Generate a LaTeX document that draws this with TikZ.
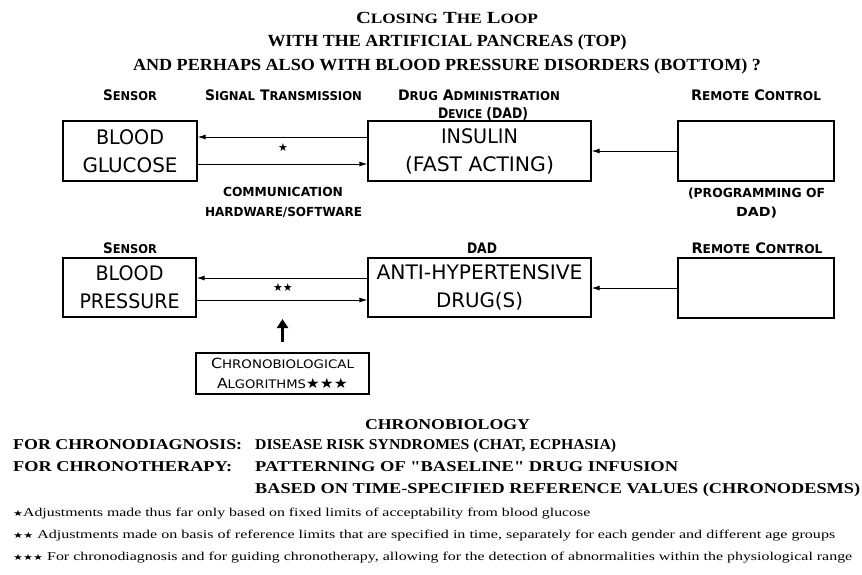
\documentclass[tikz,border=0pt]{standalone}
\usepackage{fontspec}
\usepackage{graphicx}
\setmainfont{Liberation Serif}
\newfontfamily\qfont{Liberation Serif}
\newfontfamily\lblfont{DejaVu Sans}
\newfontfamily\symfont{DejaVu Sans}
\usetikzlibrary{arrows.meta}
\newsavebox\fxbox
\newdimen\fxw
\newcommand\fitx[2]{\sbox\fxbox{#2}\fxw=\wd\fxbox\pgfmathsetmacro\fxs{#1/\fxw}\scalebox{\fxs}[1]{\usebox\fxbox}}
\newcommand\Sc[2]{#1\scalebox{0.84}{#2}}
\newcommand\st{{\symfont ★}}
\newcommand\fst{{\symfont\scalebox{0.7}{★}}}
\newcommand\dq{{\qfont\bfseries "}}
\tikzset{
  ttl/.style={anchor=base, inner sep=0pt, font=\bfseries\fontsize{17}{20}\selectfont},
  hdr/.style={anchor=base, inner sep=0pt, font=\lblfont\bfseries\fontsize{14.5}{16}\selectfont},
  sub/.style={anchor=base, inner sep=0pt, font=\lblfont\bfseries\fontsize{12.5}{14}\selectfont},
  box/.style={draw, line width=1.3pt, inner sep=0pt, align=center, font=\lblfont\fontsize{20}{28}\selectfont},
  chrbox/.style={draw, line width=1.3pt, inner sep=0pt, align=center, font=\lblfont\fontsize{14}{20}\selectfont},
  sig/.style={line width=0.9pt, -{Latex[length=8pt,width=5pt]}},
  thickarr/.style={line width=3pt, -{Triangle[length=9pt,width=11pt]}},
  starlbl/.style={inner sep=0pt, font=\fontsize{11}{12}\selectfont},
  bt/.style={inner sep=0pt, font=\bfseries\fontsize{15}{18}\selectfont},
  fn/.style={inner sep=0pt, anchor=base west, font=\fontsize{12}{14}\selectfont}
}
\begin{document}
\begin{tikzpicture}[x=1pt,y=-1pt]
\useasboundingbox (0,0) rectangle (862,574);
% title
\node[ttl] (t1) at (447,23) {\fitx{182}{\Sc{C}{LOSING} \Sc{T}{HE} \Sc{L}{OOP}}};
\node[ttl] (t2) at (447,46) {\fitx{359}{WITH THE ARTIFICIAL PANCREAS (TOP)}};
\node[ttl] (t3) at (447,70) {\fitx{628}{AND PERHAPS ALSO WITH BLOOD PRESSURE DISORDERS (BOTTOM) ?}};
% top headers
\node[hdr] (hs1) at (130,100) {\fitx{54}{\Sc{S}{ENSOR}}};
\node[hdr] (hsig) at (283.5,100) {\fitx{157}{\Sc{S}{IGNAL} \Sc{T}{RANSMISSION}}};
\node[hdr] (hdad1) at (479,100) {\fitx{162}{\Sc{D}{RUG} \Sc{A}{DMINISTRATION}}};
\node[hdr] (hdad2) at (483,118) {\fitx{90}{\Sc{D}{EVICE} (DAD)}};
\node[hdr] (hrc1) at (756,100) {\fitx{130}{\Sc{R}{EMOTE} \Sc{C}{ONTROL}}};
% top boxes
\node[box, minimum width=134pt, minimum height=60pt] (bg) at (130,151) {\fitx{68}{BLOOD}\\\fitx{95}{GLUCOSE}};
\node[box, minimum width=223pt, minimum height=60pt] (ins) at (479.5,151) {\fitx{77}{INSULIN}\\\fitx{149}{(FAST ACTING)}};
\node[box, minimum width=156pt, minimum height=60pt] (rc1) at (756,151) {};
\draw[sig] ([yshift=14pt]ins.west) -- ([yshift=14pt]bg.east);
\draw[sig] ([yshift=-13pt]bg.east) -- ([yshift=-13pt]ins.west);
\node[starlbl] (s1) at (283,148) {\st};
\draw[sig] (rc1.west) -- (ins.east);
\node[sub] (comm1) at (283,196) {\fitx{120}{COMMUNICATION}};
\node[sub] (comm2) at (283.5,216) {\fitx{157}{HARDWARE/SOFTWARE}};
\node[sub] (prog1) at (756.5,197) {\fitx{137}{(PROGRAMMING OF}};
\node[sub] (prog2) at (756.5,216) {\fitx{41}{DAD)}};
% bottom row
\node[hdr] (hs2) at (130,253) {\fitx{54}{\Sc{S}{ENSOR}}};
\node[hdr] (hdad3) at (482,253) {\fitx{30}{DAD}};
\node[hdr] (hrc2) at (757,253) {\fitx{131}{\Sc{R}{EMOTE} \Sc{C}{ONTROL}}};
\node[box, minimum width=133pt, minimum height=59pt] (bp) at (129.5,287.5) {\fitx{68}{BLOOD}\\\fitx{100}{PRESSURE}};
\node[box, minimum width=223pt, minimum height=59pt] (ah) at (479.5,287.5) {\fitx{206}{ANTI-HYPERTENSIVE}\\\fitx{87}{DRUG(S)}};
\node[box, minimum width=156pt, minimum height=60pt] (rc2) at (756,288) {};
\draw[sig] ([yshift=9.5pt]ah.west) -- ([yshift=9.5pt]bp.east);
\draw[sig] ([yshift=-12.5pt]bp.east) -- ([yshift=-12.5pt]ah.west);
\node[starlbl] (s2) at (283,288) {\st\st};
\draw[sig] (rc2.west) -- (ah.east |- rc2.west);
\node[chrbox, minimum width=173pt, minimum height=41pt] (chr) at (282.5,373.5) {\fitx{143}{\Sc{C}{HRONOBIOLOGICAL}}\\\fitx{131}{\Sc{A}{LGORITHMS}\st\st\st}};
\coordinate (chtip) at (282.5,319);
\draw[thickarr] ([yshift=10pt]chr.north) -- (chtip);
% chronobiology text
\node[bt, anchor=base] (cb) at (447.5,429) {\fitx{165}{CHRONOBIOLOGY}};
\node[bt, anchor=base west] (fd) at (13,449) {\fitx{229}{FOR CHRONODIAGNOSIS:}};
\node[bt, anchor=base west] (drs) at (255,449) {\fitx{361}{DISEASE RISK SYNDROMES (CHAT, ECPHASIA)}};
\node[bt, anchor=base west] (ft) at (13,471) {\fitx{219}{FOR CHRONOTHERAPY:}};
\node[bt, anchor=base west] (pat) at (255,471) {\fitx{423}{PATTERNING OF \dq BASELINE\dq{} DRUG INFUSION}};
\node[bt, anchor=base west] (bas) at (255,493) {\fitx{605}{BASED ON TIME-SPECIFIED REFERENCE VALUES (CHRONODESMS)}};
% footnotes
\node[fn] (f1) at (13,516) {\fitx{577}{\fst Adjustments made thus far only based on fixed limits of acceptability from blood glucose}};
\node[fn] (f2) at (13,538) {\fitx{822}{\fst\fst\ Adjustments made on basis of reference limits that are specified in time, separately for each gender and different age groups}};
\node[fn] (f3) at (13,560) {\fitx{839}{\fst\fst\fst\ For chronodiagnosis and for guiding chronotherapy, allowing for the detection of abnormalities within the physiological range}};
\end{tikzpicture}
\end{document}
